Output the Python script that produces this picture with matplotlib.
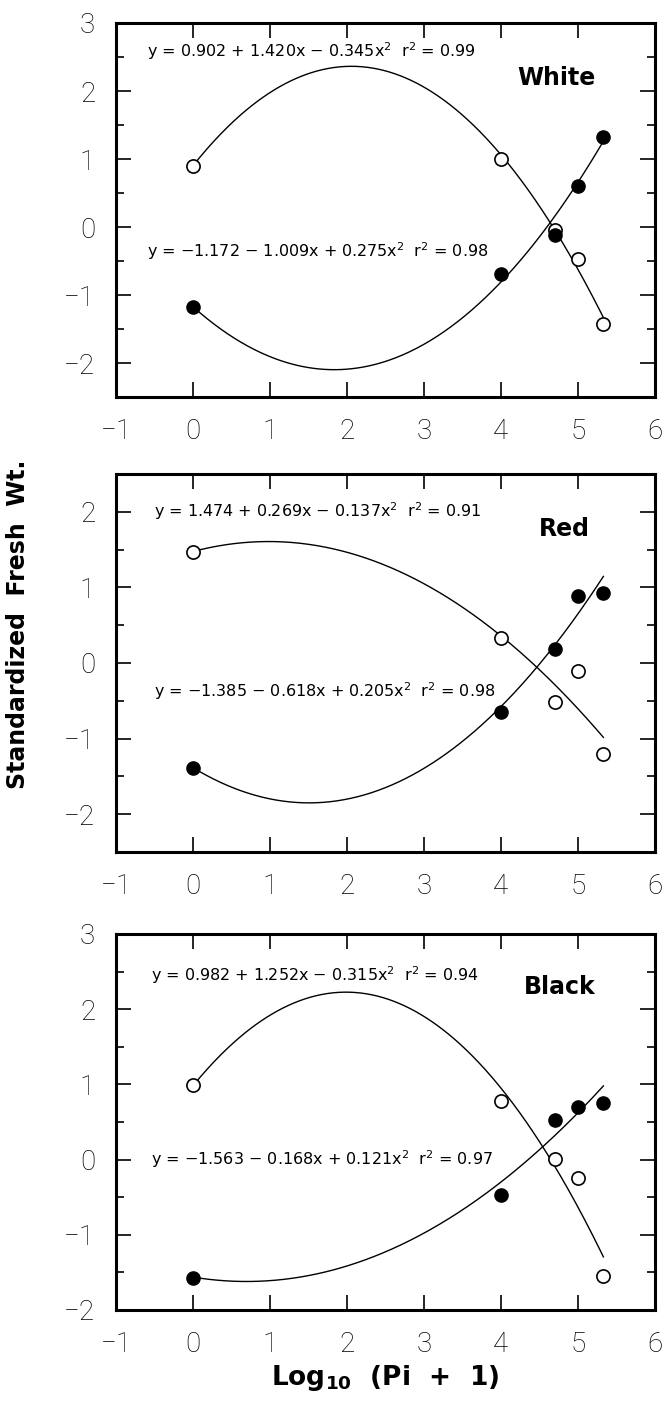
import numpy as np
import matplotlib.pyplot as plt
from matplotlib.ticker import MultipleLocator

# Log10 (Pi + 1) positions shared by all panels
x_vals = [0, 4, 4.7, 5, 5.33]

# Standardized fresh weight
white_open = [0.90, 1.00, -0.05, -0.47, -1.42]
white_filled = [-1.18, -0.69, -0.11, 0.60, 1.32]
red_open = [1.47, 0.33, -0.51, -0.11, -1.21]
red_filled = [-1.39, -0.65, 0.19, 0.88, 0.92]
black_open = [0.99, 0.78, 0.01, -0.25, -1.55]
black_filled = [-1.58, -0.47, 0.52, 0.70, 0.75]

# quadratic fits printed on the figure: (a, b, c), r^2
white_open_fit = [0.902, 1.420, -0.345]
white_filled_fit = [-1.172, -1.009, 0.275]
red_open_fit = [1.474, 0.269, -0.137]
red_filled_fit = [-1.385, -0.618, 0.205]
black_open_fit = [0.982, 1.252, -0.315]
black_filled_fit = [-1.563, -0.168, 0.121]
r2_white = [0.99, 0.98]
r2_red = [0.91, 0.98]
r2_black = [0.94, 0.97]

panel_names = ["White", "Red", "Black"]

tick_font = dict(family=["Roboto", "DejaVu Sans"], weight="light", size=20)


def fit_label(coefs, r2):
    a, b, c = coefs
    s1 = "+" if b >= 0 else "\u2212"
    s2 = "+" if c >= 0 else "\u2212"
    a_txt = f"{a:.3f}".replace("-", "\u2212")
    return (f"y = {a_txt} {s1} {abs(b):.3f}x {s2} {abs(c):.3f}x$^2$  "
            f"r$^2$ = {r2:.2f}")


def quad(coefs, x):
    return coefs[0] + coefs[1] * x + coefs[2] * x**2


fig = plt.figure(figsize=(6.64, 14.11), dpi=100)

# axes boxes in figure fractions
boxes = [
    [0.1747, 0.7186, 0.8117, 0.2651],
    [0.1747, 0.3962, 0.8117, 0.2679],
    [0.1747, 0.0716, 0.8117, 0.2665],
]
ylims = [(-2.5, 3), (-2.5, 2.5), (-2, 3)]
opens = [white_open, red_open, black_open]
filleds = [white_filled, red_filled, black_filled]
open_fits = [white_open_fit, red_open_fit, black_open_fit]
filled_fits = [white_filled_fit, red_filled_fit, black_filled_fit]
r2s = [r2_white, r2_red, r2_black]
# text anchors (data coords): upper eq, lower eq, panel name
eq_pos = [((-0.6, 2.58), (-0.6, -0.35), (4.72, 2.19)),
          ((-0.5, 2.01), (-0.5, -0.37), (4.82, 1.77)),
          ((-0.55, 2.45), (-0.55, 0.0), (4.76, 2.30))]

xs = np.linspace(x_vals[0], x_vals[-1], 300)

for i, box in enumerate(boxes):
    ax = fig.add_axes(box)
    ax.set_xlim(-1, 6)
    ax.set_ylim(*ylims[i])

    ax.plot(xs, quad(open_fits[i], xs), color="black", lw=1.0)
    ax.plot(xs, quad(filled_fits[i], xs), color="black", lw=1.0)
    ax.plot(x_vals, opens[i], "o", ms=9.5, mfc="white", mec="black", mew=1.2)
    ax.plot(x_vals, filleds[i], "o", ms=9.5, mfc="black", mec="black")

    (ux, uy), (lx, ly), (nx, ny) = eq_pos[i]
    ax.text(ux, uy, fit_label(open_fits[i], r2s[i][0]), fontsize=11.5,
            va="center", ha="left")
    ax.text(lx, ly, fit_label(filled_fits[i], r2s[i][1]), fontsize=11.5,
            va="center", ha="left")
    ax.text(nx, ny, panel_names[i], fontsize=17, fontweight="bold",
            ha="center", va="center")

    ax.xaxis.set_major_locator(MultipleLocator(1))
    ax.yaxis.set_major_locator(MultipleLocator(1))
    ax.yaxis.set_minor_locator(MultipleLocator(0.5))
    ax.tick_params(which="both", direction="in", top=True, right=True,
                   width=1.2)
    ax.tick_params(which="major", length=11, pad=15)
    ax.tick_params(which="minor", length=5.5)
    for lab in ax.get_xticklabels() + ax.get_yticklabels():
        lab.set_fontfamily(tick_font["family"])
        lab.set_fontweight(tick_font["weight"])
        lab.set_fontsize(tick_font["size"])
    for sp in ax.spines.values():
        sp.set_linewidth(2.2)

    if i == 2:
        ax.set_xlabel("Log$_{\\mathbf{10}}$  (Pi  +  1)", fontsize=19,
                      fontweight="bold", labelpad=4)

fig.text(0.027, 1 - 624 / 1411, "Standardized  Fresh  Wt.", rotation=90,
         fontsize=17, fontweight="bold", ha="center", va="center")

fig.savefig("out.png", dpi=100)
